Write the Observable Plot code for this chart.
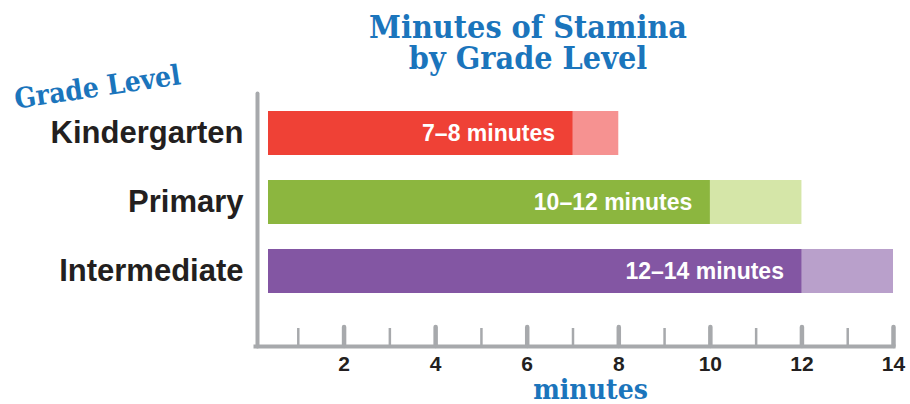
<!DOCTYPE html>
<html>
<head>
<meta charset="utf-8">
<script src="https://cdn.jsdelivr.net/npm/d3@7"></script>
<script src="https://cdn.jsdelivr.net/npm/@observablehq/plot@0.6"></script>
<style>
  html, body { margin: 0; padding: 0; background: #fff; }
</style>
</head>
<body>
<div id="chart"></div>
<script>
const grades = ["Kindergarten", "Primary", "Intermediate"];
const minLow = [7, 10, 12];
const minHigh = [8, 12, 14];
const barLabels = ["7–8 minutes", "10–12 minutes", "12–14 minutes"];
const darkColors = ["#ef4136", "#8cb63f", "#8356a3"];
const lightColors = ["#f69291", "#d5e6a8", "#b9a0cb"];
const majorTicks = [2, 4, 6, 8, 10, 12, 14];
const minorTicks = [1, 3, 5, 7, 9, 11, 13];
const titleText = "Minutes of Stamina\nby Grade Level";
const yTitle = "Grade Level";
const xTitle = "minutes";

const data = grades.map((g, i) => ({
  grade: g, low: minLow[i], high: minHigh[i], label: barLabels[i],
  dark: darkColors[i], light: lightColors[i]
}));

const W = 910, H = 404;
const mT = 93, mB = 58, mL = 252, mR = 17;
const frameH = H - mT - mB;
const blue = "#1b75bc";
const grey = "#a7a9ac";
const ink = "#231f20";
const serif = "'DejaVu Serif Condensed', 'DejaVu Serif', serif";
const sans = "'Liberation Sans', Arial, Helvetica, sans-serif";

const chart = Plot.plot({
  width: W,
  height: H,
  marginTop: mT,
  marginBottom: mB,
  marginLeft: mL,
  marginRight: mR,
  style: { fontFamily: sans, background: "#fff" },
  x: { domain: [0, 14], axis: null },
  y: { domain: grades, range: [86, 318], padding: 0.362, axis: null },
  marks: [
    Plot.barX(data, { x: "high", y: "grade", fill: "light", insetLeft: 16 }),
    Plot.barX(data, { x: "low", y: "grade", fill: "dark", insetLeft: 16 }),
    Plot.text(data, {
      x: "low", y: "grade", text: "label", dx: -18, textAnchor: "end",
      fill: "#fff", fontSize: 23, fontWeight: "bold", fontFamily: sans
    }),
    Plot.ruleX(minorTicks, { x: d => d, stroke: grey, strokeWidth: 2.5, insetTop: frameH - 18 }),
    Plot.ruleX(majorTicks, { x: d => d, stroke: grey, strokeWidth: 4.5, strokeLinecap: "round", insetTop: frameH - 19 }),
    Plot.frame({ anchor: "bottom", stroke: grey, strokeWidth: 4, insetLeft: 3 }),
    Plot.frame({ anchor: "left", stroke: grey, strokeWidth: 4, insetLeft: 5, strokeLinecap: "round" }),
    Plot.axisX(majorTicks, {
      tickSize: 0, tickPadding: 10, fontSize: 21, fontWeight: "bold",
      fill: ink, fontFamily: sans, label: null
    }),
    Plot.axisY({
      tickSize: 0, tickPadding: 9, fontSize: 31, fontWeight: "bold",
      fill: ink, fontFamily: sans, label: null
    }),
    Plot.text([titleText], {
      frameAnchor: "top-left", dx: 275.5, dy: -78, lineAnchor: "top",
      textAnchor: "middle", lineHeight: 0.97,
      fill: blue, fontSize: 32, fontWeight: "bold", fontFamily: serif
    }),
    Plot.text([yTitle], {
      frameAnchor: "top-left", dx: -155, dy: -6, rotate: -8.5,
      textAnchor: "middle", lineAnchor: "middle",
      fill: blue, fontSize: 28, fontWeight: "bold", fontFamily: serif
    }),
    Plot.text([xTitle], {
      frameAnchor: "bottom-left", dx: 338, dy: 52, lineAnchor: "bottom",
      textAnchor: "middle",
      fill: blue, fontSize: 28, fontWeight: "bold", fontFamily: serif
    })
  ]
});

document.getElementById("chart").appendChild(chart);
</script>
</body>
</html>
